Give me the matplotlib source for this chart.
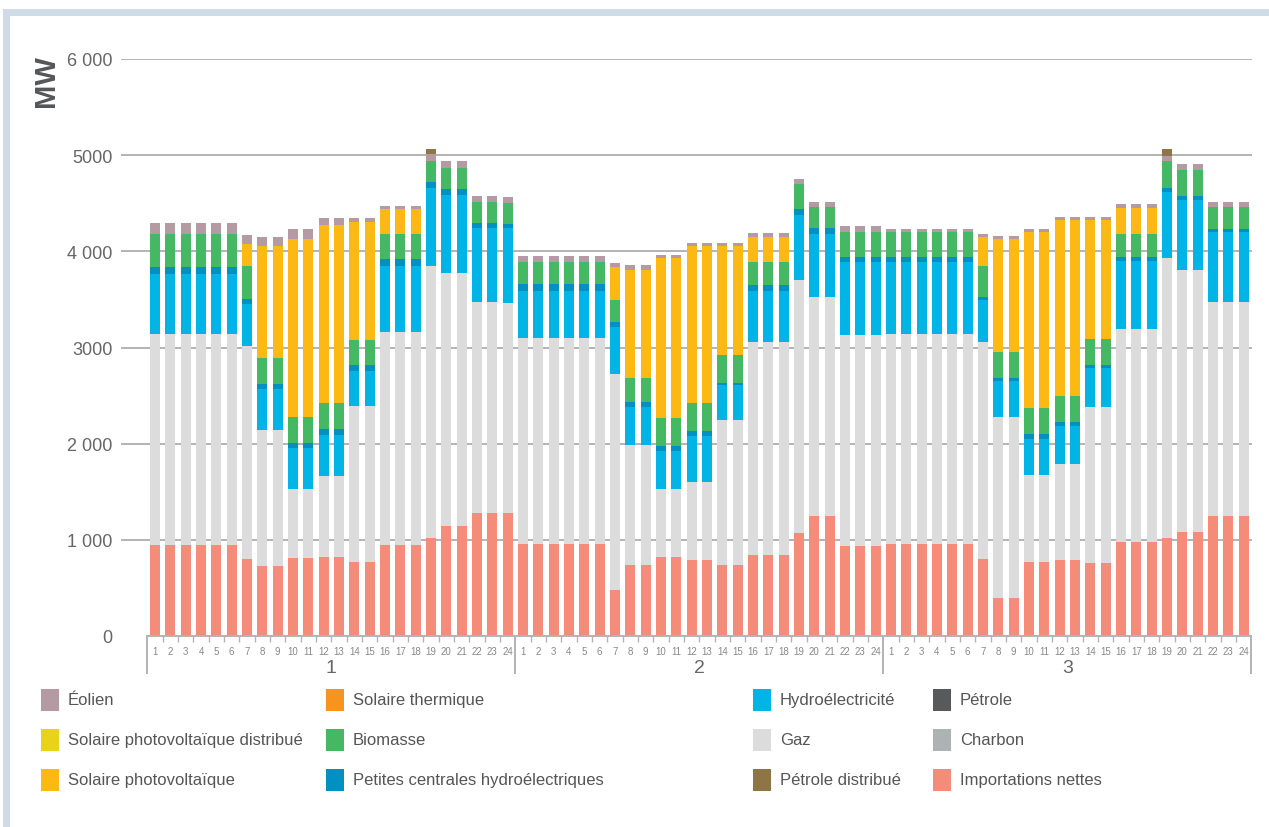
import matplotlib.pyplot as plt
import numpy as np
from matplotlib.patches import Rectangle

# données : 3 jours x 24 heures (MW)
jours = ['1', '2', '3']
heures = [str(h) for h in range(1, 25)]

importations = ([950] * 6 + [800, 730, 730, 810, 810, 820, 820, 770, 770, 950, 950, 950, 1020, 1145, 1145, 1280, 1280, 1280]
                + [960] * 6 + [480, 740, 740, 820, 820, 790, 790, 740, 740, 840, 840, 840, 1070, 1250, 1250, 935, 935, 935]
                + [960] * 6 + [800, 395, 395, 770, 770, 790, 790, 760, 760, 980, 980, 980, 1020, 1080, 1080, 1250, 1250, 1250])
gaz = ([2190] * 6 + [2215, 1415, 1415, 720, 720, 845, 845, 1625, 1625, 2210, 2210, 2210, 2830, 2630, 2630, 2195, 2195, 2185]
       + [2140] * 6 + [2245, 1245, 1245, 710, 710, 810, 810, 1510, 1510, 2220, 2220, 2220, 2630, 2275, 2275, 2195, 2195, 2195]
       + [2180] * 6 + [2255, 1885, 1885, 905, 905, 1000, 1000, 1625, 1625, 2215, 2215, 2215, 2910, 2725, 2725, 2225, 2225, 2225])
charbon = [0] * 72
petrole = [0] * 72
hydro = ([625] * 6 + [435, 425, 425, 425, 425, 430, 430, 360, 360, 685, 685, 685, 810, 810, 810, 770, 770, 780]
         + [490] * 6 + [490, 395, 395, 395, 395, 480, 480, 355, 355, 525, 525, 525, 675, 655, 655, 760, 760, 760]
         + [750] * 6 + [435, 375, 375, 375, 375, 395, 395, 405, 405, 705, 705, 705, 685, 730, 730, 730, 730, 730])
petites_hydro = ([75] * 6 + [50, 50, 50, 55, 55, 60, 60, 60, 60, 75, 75, 75, 65, 65, 65, 50, 50, 40]
                 + [75] * 6 + [50, 50, 50, 50, 50, 50, 50, 30, 30, 60, 60, 60, 65, 60, 60, 50, 50, 50]
                 + [50] * 6 + [40, 30, 30, 50, 50, 40, 40, 30, 30, 40, 40, 40, 40, 40, 40, 30, 30, 30])
biomasse = ([340] * 6 + [350, 270, 270, 270, 270, 270, 270, 260, 260, 260, 260, 260, 210, 220, 220, 220, 220, 220]
            + [220] * 6 + [230, 250, 250, 290, 290, 290, 290, 290, 290, 240, 240, 240, 260, 220, 220, 260, 260, 260]
            + [260] * 6 + [320, 270, 270, 270, 270, 270, 270, 270, 270, 240, 240, 240, 280, 270, 270, 230, 230, 230])
solaire_pv = ([0] * 6 + [230, 1165, 1165, 1850, 1850, 1850, 1850, 1230, 1230, 260, 260, 260, 0, 0, 0, 0, 0, 0]
              + [0] * 6 + [345, 1125, 1125, 1665, 1665, 1635, 1635, 1135, 1135, 265, 265, 265, 0, 0, 0, 0, 0, 0]
              + [0] * 6 + [300, 1175, 1175, 1830, 1830, 1830, 1830, 1235, 1235, 270, 270, 270, 0, 0, 0, 0, 0, 0])
solaire_pv_distribue = [0] * 72
solaire_thermique = [0] * 72
eolien = ([115] * 6 + [85, 95, 95, 105, 105, 75, 75, 40, 40, 30, 30, 30, 75, 65, 65, 60, 60, 65]
          + [65] * 6 + [40, 50, 50, 30, 30, 30, 30, 30, 30, 40, 40, 40, 50, 50, 50, 60, 60, 60]
          + [30] * 6 + [30, 30, 30, 30, 30, 30, 30, 30, 30, 40, 40, 40, 60, 65, 65, 50, 50, 50])
petrole_distribue = [0] * 18 + [50] + [0] * 5 + [0] * 24 + [0] * 18 + [70] + [0] * 5

# ordre d'empilement (du bas vers le haut)
series = [
    ('Importations nettes', importations, '#f58c7a'),
    ('Gaz', gaz, '#dcdcdc'),
    ('Charbon', charbon, '#adb2b3'),
    ('Pétrole', petrole, '#58595b'),
    ('Hydroélectricité', hydro, '#00b5e6'),
    ('Petites centrales hydroélectriques', petites_hydro, '#0091c2'),
    ('Biomasse', biomasse, '#45b864'),
    ('Solaire photovoltaïque', solaire_pv, '#fdb913'),
    ('Solaire photovoltaïque distribué', solaire_pv_distribue, '#e8d31a'),
    ('Solaire thermique', solaire_thermique, '#f7941d'),
    ('Éolien', eolien, '#b49ba3'),
    ('Pétrole distribué', petrole_distribue, '#8e7546'),
]
couleurs = {nom: c for nom, _, c in series}

W, H = 1269, 828
fig = plt.figure(figsize=(W / 100, H / 100), dpi=100)
ax = fig.add_axes([121 / W, (H - 637) / H, (1252 - 121) / W, (637 - 60) / H])

x = np.arange(72)
bas = np.zeros(72)
for nom, vals, c in series:
    vals = np.array(vals, dtype=float)
    ax.bar(x, vals, 0.65, bottom=bas, color=c, linewidth=0, zorder=2)
    bas += vals

ax.set_xlim(-2.22, 71.55)
ax.set_ylim(0, 6000)
for s in ax.spines.values():
    s.set_visible(False)

gris = '#b3b3b3'
for yv in range(1000, 7000, 1000):
    ax.axhline(yv, color=gris, lw=1.4, zorder=0)
ax.plot([-0.5, 71.5], [0, 0], color=gris, lw=1.4, clip_on=False, zorder=3)

police = ['Liberation Sans', 'DejaVu Sans']
ax.set_yticks(range(0, 7000, 1000))
ax.set_yticklabels(['0', '1 000', '2 000', '3000', '4 000', '5000', '6 000'], family=police)
ax.tick_params(axis='y', length=0, pad=6, labelsize=13, labelcolor='#666666')

ax.set_xticks(x)
ax.set_xticklabels(heures * 3, family=police)
ax.tick_params(axis='x', which='major', length=0, pad=7, labelsize=7, labelcolor='#888888')
limites = [i + 0.5 for i in range(71) if (i + 1) % 24 != 0]
ax.set_xticks(limites, minor=True)
ax.tick_params(axis='x', which='minor', length=4.3, width=1, color=gris, direction='out')

tr = ax.get_xaxis_transform()
ax.vlines([-0.5, 23.5, 47.5, 71.5], -0.066, 0, transform=tr, clip_on=False, color=gris, lw=1.4)
for d, j in enumerate(jours):
    ax.text(11.5 + 24 * d, -0.055, j, transform=tr, ha='center', va='center',
            fontsize=14, color='#666666', family=police)

fig.text(46 / W, 1 - 81 / H, 'MW', rotation=90, fontsize=21, fontweight='heavy',
         color='#555658', ha='center', va='center', family=police)

# cadre
cadre = '#d0dbe8'
fig.add_artist(Rectangle((3 / W, 0), 7 / W, (H - 10) / H, transform=fig.transFigure, color=cadre, lw=0))
fig.add_artist(Rectangle((3 / W, (H - 17) / H), (W - 3) / W, 7 / H, transform=fig.transFigure, color=cadre, lw=0))

# légende
legende = [
    ['Éolien', 'Solaire photovoltaïque distribué', 'Solaire photovoltaïque'],
    ['Solaire thermique', 'Biomasse', 'Petites centrales hydroélectriques'],
    ['Hydroélectricité', 'Gaz', 'Pétrole distribué'],
    ['Pétrole', 'Charbon', 'Importations nettes'],
]
col_x = [41, 326, 753, 933]
lig_y = [701, 741, 781]
for ci, noms in enumerate(legende):
    for ri, nom in enumerate(noms):
        xp, yp = col_x[ci], lig_y[ri]
        fig.add_artist(Rectangle((xp / W, 1 - (yp + 11) / H), 18 / W, 22 / H,
                                 transform=fig.transFigure, color=couleurs[nom], lw=0))
        fig.text((xp + 27) / W, 1 - yp / H, nom, ha='left', va='center', fontsize=12,
                 color='#555555', family=police)

plt.savefig('out.png', dpi=100)
